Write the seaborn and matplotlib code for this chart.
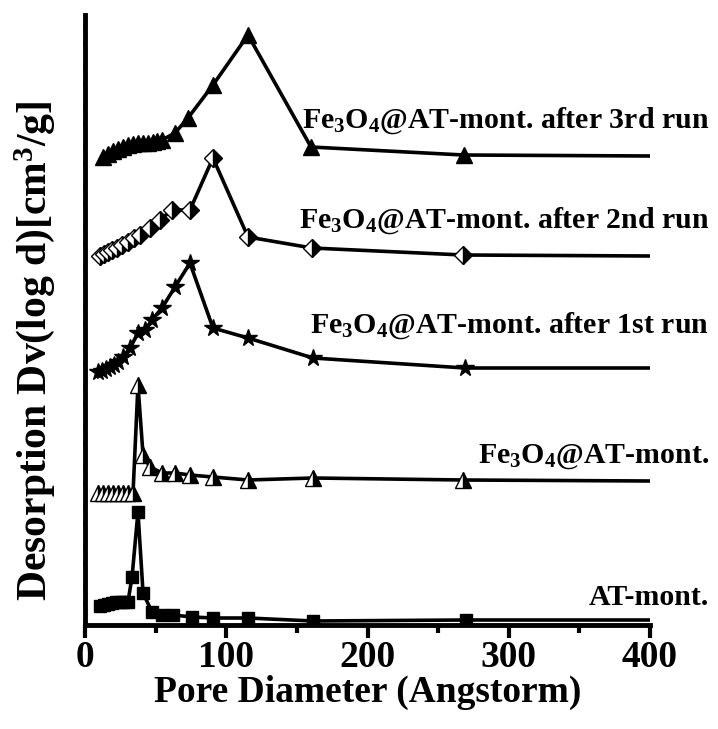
import matplotlib

matplotlib.use("Agg")
import matplotlib.pyplot as plt
import seaborn as sns
from matplotlib.ticker import MultipleLocator, NullFormatter

# Pore diameters (Angstrom) and desorption values (arbitrary, stacked offsets)
run3_x = [12.7, 16.3, 19.8, 23.4, 26.9, 30.4, 34, 37.5, 41, 44.6, 48.1, 51,
          54.5, 63.7, 72.9, 90.6, 115.4, 160, 268, 400]
run3_y = [468, 471, 474, 476, 478, 480, 481, 482, 482, 482, 483, 484,
          485, 492, 507, 540, 590, 478, 470, 469]

run2_x = [10.6, 13.5, 16.3, 19.1, 22.7, 26.2, 30.4, 34.7, 38.9, 46, 53.1,
          61.6, 74.3, 90.6, 115.4, 160.7, 267.6, 400]
run2_y = [369, 371, 373, 375, 377, 380, 383, 387, 390, 397, 405,
          415, 415, 467, 388, 377, 370, 369]

run1_x = [9.2, 12, 14.9, 17.7, 20.5, 23.4, 26.9, 31.9, 37.5, 42.5, 47.4,
          54.5, 63.7, 74.3, 90.6, 115.4, 161.4, 269, 400]
run1_y = [253, 254, 256, 258, 260, 263, 268, 277, 292, 295, 305,
          317, 338, 362, 297, 287, 267, 257, 257]

fe_x = [9.2, 12.7, 16.3, 19.8, 23.4, 26.9, 30.4, 34, 37.5, 41.1, 46,
        54.5, 63.7, 74.3, 90.6, 115.4, 161.4, 267.6, 400]
fe_y = [132, 132, 132, 132, 132, 132, 132, 132, 240, 170, 158,
        152, 152, 150, 148, 145, 147, 145, 144]

at_x = [10.6, 13.5, 16.3, 19.1, 21.9, 24.8, 27.6, 30.4, 33.3, 37.5, 41.1,
        47.4, 54.5, 62.3, 75.8, 90.6, 115.4, 161.4, 269.7, 400]
at_y = [19, 20, 21, 22, 23, 23, 23, 23, 48, 113, 32,
        13, 10, 10, 8, 7, 7, 4, 5, 5]

labels = [
    "Fe$_3$O$_4$@AT-mont. after 3rd run",
    "Fe$_3$O$_4$@AT-mont. after 2nd run",
    "Fe$_3$O$_4$@AT-mont. after 1st run",
    "Fe$_3$O$_4$@AT-mont.",
    "AT-mont.",
]
label_y = [497, 397, 292, 162, 20]

sns.set_style("ticks")
plt.rcParams["font.family"] = ["Liberation Serif", "DejaVu Serif"]
plt.rcParams["font.weight"] = "bold"
plt.rcParams["mathtext.fontset"] = "custom"
plt.rcParams["mathtext.rm"] = "Liberation Serif:bold"
plt.rcParams["mathtext.it"] = "Liberation Serif:bold"
plt.rcParams["mathtext.bf"] = "Liberation Serif:bold"
for key in ["text.color", "axes.labelcolor", "axes.edgecolor",
            "xtick.color", "ytick.color"]:
    plt.rcParams[key] = "black"

fig = plt.figure(figsize=(7.18, 7.29), dpi=100)
ax = fig.add_axes([85 / 718, 104 / 729, 565 / 718, 610 / 729])

series = [
    (run3_x, run3_y, dict(marker="^", markersize=11, markerfacecolor="black")),
    (run2_x, run2_y, dict(marker="D", markersize=9, fillstyle="right",
                          markerfacecolor="black", markerfacecoloralt="white")),
    (run1_x, run1_y, dict(marker="*", markersize=13, markerfacecolor="black")),
    (fe_x, fe_y, dict(marker="^", markersize=11, fillstyle="right",
                      markerfacecolor="black", markerfacecoloralt="white")),
    (at_x, at_y, dict(marker="s", markersize=8, markerfacecolor="black")),
]

for xs, ys, style in series:
    sns.lineplot(x=xs, y=ys, ax=ax, color="black", linewidth=2.6, sort=False,
                 markeredgecolor="black", markeredgewidth=1.0,
                 markevery=slice(0, len(xs) - 1), **style)

for text, ty in zip(labels, label_y):
    ax.text(442, ty, text, ha="right", va="baseline", fontsize=21.5,
            fontweight="bold", clip_on=False)

ax.set_xlim(0, 400)
ax.set_ylim(0, 610)
ax.xaxis.set_major_locator(MultipleLocator(100))
ax.xaxis.set_minor_locator(MultipleLocator(50))
ax.yaxis.set_major_locator(MultipleLocator(20))
ax.yaxis.set_major_formatter(NullFormatter())
ax.tick_params(axis="x", which="major", length=9, width=3, pad=2,
               labelsize=27, direction="out")
ax.tick_params(axis="x", which="minor", length=6, width=3, direction="out")
ax.tick_params(axis="y", which="major", length=2.5, width=1.5,
               direction="inout")

for side in ["top", "right"]:
    ax.spines[side].set_visible(False)
for side in ["left", "bottom"]:
    ax.spines[side].set_linewidth(3.5)

ax.set_xlabel("Pore Diameter (Angstorm)", fontsize=27, fontweight="bold",
              labelpad=0)
ax.set_ylabel("Desorption Dv(log d)[cm$^3$/g]", fontsize=30,
              fontweight="bold", labelpad=2)
ax.yaxis.set_label_coords(-0.05, 0.45)

fig.savefig("out.png", dpi=100)
